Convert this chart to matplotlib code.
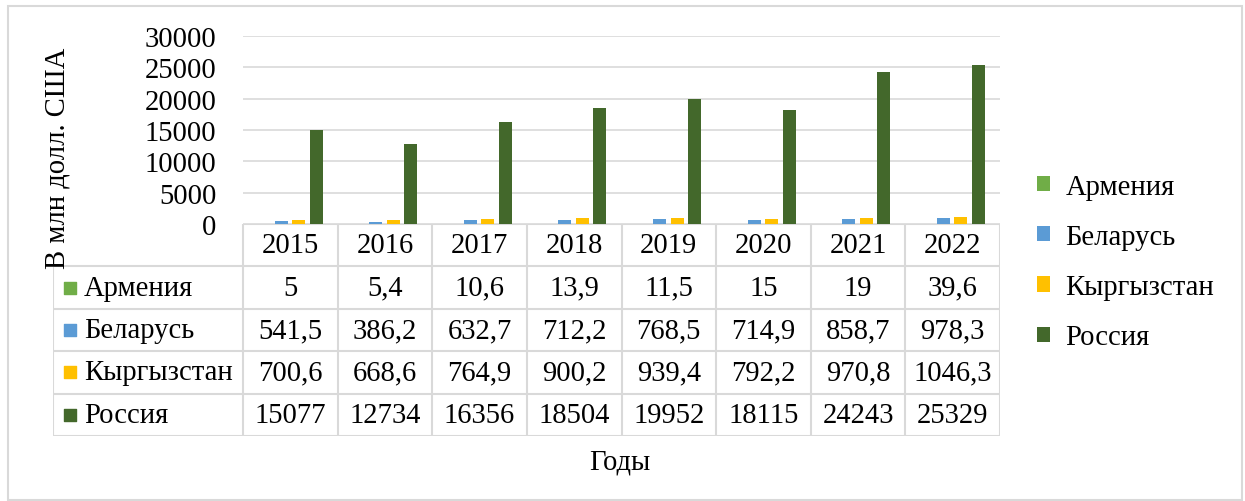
import numpy as np
import matplotlib

matplotlib.use("Agg")
import matplotlib.pyplot as plt
from matplotlib.patches import Rectangle

plt.rcParams["font.family"] = ["Liberation Serif", "DejaVu Serif"]

# данные
years = ["2015", "2016", "2017", "2018", "2019", "2020", "2021", "2022"]
series_names = ["Армения", "Беларусь", "Кыргызстан", "Россия"]
armenia = [5, 5.4, 10.6, 13.9, 11.5, 15, 19, 39.6]
belarus = [541.5, 386.2, 632.7, 712.2, 768.5, 714.9, 858.7, 978.3]
kyrgyzstan = [700.6, 668.6, 764.9, 900.2, 939.4, 792.2, 970.8, 1046.3]
russia = [15077, 12734, 16356, 18504, 19952, 18115, 24243, 25329]
colors = ["#70AD47", "#5B9BD5", "#FFC000", "#43682B"]
y_ticks = [0, 5000, 10000, 15000, 20000, 25000, 30000]

W, H = 1245, 502
FS = 20.6
GRID = "#d9d9d9"


def fx(px):
    return px / W


def fy(py):
    return 1 - py / H


fig = plt.figure(figsize=(W / 100, H / 100), dpi=100)

# рамка вокруг диаграммы
fig.patches.append(
    Rectangle((fx(8), fy(501)), fx(1234), 494 / H, transform=fig.transFigure,
              fill=False, edgecolor=GRID, lw=1.5)
)

# область графика
x0, x1, ytop, ybot = 243, 1000, 37, 225
ax = fig.add_axes([fx(x0), fy(ybot), fx(x1 - x0), (ybot - ytop) / H])
x = np.arange(len(years))
all_series = [armenia, belarus, kyrgyzstan, russia]
step, width = 0.185, 0.137
for i, (name, vals) in enumerate(zip(series_names, all_series)):
    ax.bar(x + (i - 1.5) * step - 0.005, vals, width, color=colors[i], label=name, zorder=3)

ax.set_xlim(-0.5, len(years) - 0.5)
ax.set_ylim(0, 30000)
ax.set_yticks(y_ticks)
ax.set_yticklabels([str(t) for t in y_ticks], fontsize=FS)
ax.set_xticks([])
ax.tick_params(axis="y", length=0, pad=19)
ax.grid(axis="y", color=GRID, lw=1.2, zorder=0)
for sp in ax.spines.values():
    sp.set_visible(False)

# таблица данных
col_w = (x1 - x0) / len(years)
left_units = (x0 - 53) / col_w
tab = fig.add_axes([fx(53), fy(437), fx(x1 - 53), (437 - ybot) / H])
tab.set_xlim(-0.5 - left_units, len(years) - 0.5)
tab.set_ylim(5, 0)
tab.axis("off")
xl = -0.5 - left_units
tab.hlines([1, 2, 3, 4, 5], xl, len(years) - 0.5, color=GRID, lw=1.5)
tab.hlines([0], -0.5, len(years) - 0.5, color=GRID, lw=1.5)
tab.vlines([xl], 1, 5, color=GRID, lw=1.5)
tab.vlines(np.arange(len(years) + 1) - 0.5, 0, 5, color=GRID, lw=1.5)

for j, yr in enumerate(years):
    tab.text(j, 0.5, yr, ha="center", va="center", fontsize=FS)

for i, (name, vals) in enumerate(zip(series_names, all_series)):
    row = i + 1.5
    tab.scatter([xl + 17.5 / col_w], [row], marker="s", s=85, color=colors[i])
    tab.text(xl + 31 / col_w, row, name, ha="left", va="center", fontsize=FS)
    for j, v in enumerate(vals):
        tab.text(j, row, f"{v:g}".replace(".", ","), ha="center", va="center", fontsize=FS)

# подписи осей
fig.text(fx(57), fy(158), "В млн долл. США", rotation=90, ha="center", va="center", fontsize=FS)
fig.text(fx(620), fy(463), "Годы", ha="center", va="center", fontsize=FS)

# легенда
fig.legend(
    loc="center left",
    bbox_to_anchor=(fx(1037), fy(263)),
    frameon=False,
    fontsize=FS,
    handlelength=0.45,
    handleheight=0.45,
    handletextpad=0.55,
    labelspacing=0.85,
    borderpad=0,
    borderaxespad=0,
)

fig.savefig("out.png", dpi=100)
plt.close(fig)
